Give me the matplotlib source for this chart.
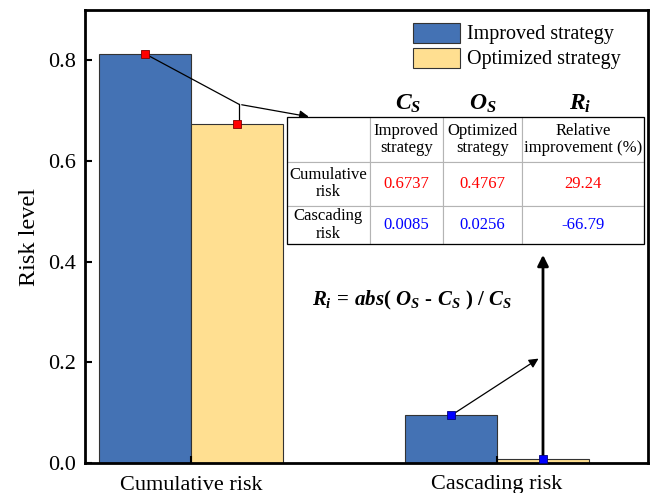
import numpy as np
import matplotlib
matplotlib.use('Agg')
import matplotlib.pyplot as plt
from matplotlib.patches import Rectangle

plt.rcParams['font.family'] = 'Liberation Serif'
plt.rcParams['mathtext.fontset'] = 'custom'
plt.rcParams['mathtext.it'] = 'Liberation Serif:italic:bold'
plt.rcParams['mathtext.rm'] = 'Liberation Serif:bold'
plt.rcParams['mathtext.bf'] = 'Liberation Serif:bold'

categories = ['Cumulative risk', 'Cascading risk']
improved = [0.813, 0.0946]
optimized = [0.674, 0.0085]

col_labels = ['', 'Improved\nstrategy', 'Optimized\nstrategy', 'Relative\nimprovement (%)']
row_labels = ['Cumulative\nrisk', 'Cascading\nrisk']
tab_cs = ['0.6737', '0.0085']
tab_os = ['0.4767', '0.0256']
tab_ri = ['29.24', '-66.79']
row_colors = ['red', 'blue']

c_blue = '#4472b4'
c_yellow = '#ffdf91'
w = 0.3

fig = plt.figure(figsize=(6.56, 4.93), dpi=100)
ax = fig.add_axes([85/656, 1-463/493, 563/656, 453/493])

x = np.arange(len(categories))
ax.bar(x - w/2, improved, w, color=c_blue, edgecolor='#333333', linewidth=0.8, label='Improved strategy')
ax.bar(x + w/2, optimized, w, color=c_yellow, edgecolor='#333333', linewidth=0.8, label='Optimized strategy')

ax.set_xlim(-0.346, 1.493)
ax.set_ylim(0, 0.9)
ax.set_xticks(x)
ax.set_xticklabels(categories, fontsize=16)
ax.set_yticks([0, 0.2, 0.4, 0.6, 0.8])
ax.set_yticklabels(['0.0', '0.2', '0.4', '0.6', '0.8'], fontsize=16)
ax.tick_params(direction='in', width=1.5, length=5)
ax.tick_params(axis='y', pad=6.5)
ax.tick_params(axis='x', pad=9)
ax.set_ylabel('Risk level', fontsize=17.5, labelpad=6)
for s in ax.spines.values():
    s.set_linewidth(2)

# annotations for cumulative risk
kink = (0.157, 0.7127)
ax.plot([0 - w/2, kink[0]], [improved[0], kink[1]], color='k', lw=0.9, zorder=4)
ax.plot([kink[0], kink[0]], [kink[1], optimized[0]], color='k', lw=0.9, zorder=4)
ax.annotate('', xy=(0.394, 0.687), xytext=kink,
            arrowprops=dict(arrowstyle='-|>', color='k', lw=0.9, mutation_scale=14), zorder=4)
ax.plot([0 - w/2, 0 + w/2], [improved[0], optimized[0]], ls='none', marker='s',
        ms=6, mfc='red', mec='#800000', mew=0.6, zorder=5)

# annotations for cascading risk
ax.annotate('', xy=(1.143, 0.2104), xytext=(1 - w/2, improved[1]),
            arrowprops=dict(arrowstyle='-|>', color='k', lw=0.9, mutation_scale=14), zorder=4)
ax.annotate('', xy=(1.15, 0.419), xytext=(1 + w/2, optimized[1]),
            arrowprops=dict(arrowstyle='-|>', color='k', lw=2, mutation_scale=16), zorder=4)
ax.plot([1 - w/2, 1 + w/2], [improved[1], optimized[1]], ls='none', marker='s',
        ms=6, mfc='blue', mec='#000080', mew=0.6, zorder=5)

ax.text(312, 493 - 300, r'$R_i\,=\,abs(\ O_S\ \text{-}\ C_S\ )\ /\ C_S$', transform=None, fontsize=15,
        ha='left', va='center')

# table
cell_text = [[row_labels[i], tab_cs[i], tab_os[i], tab_ri[i]] for i in range(2)]
tb_l, tb_r, tb_b, tb_t = 0.358, 0.993, 0.4834, 0.763
tab = ax.table(cellText=cell_text, colLabels=col_labels, cellLoc='center',
               colWidths=[0.233, 0.2035, 0.221, 0.342],
               bbox=[tb_l, tb_b, tb_r - tb_l, tb_t - tb_b], zorder=6)
tab.auto_set_font_size(False)
row_h = [44.4, 44.3, 38]
for (r, c), cell in tab.get_celld().items():
    cell.set_edgecolor('#b4b4b4')
    cell.set_linewidth(0.8)
    cell.set_facecolor('white')
    cell.set_height(row_h[r])
    txt = cell.get_text()
    txt.set_fontsize(12)
    txt.set_linespacing(1.1)
    if r > 0 and c > 0:
        txt.set_color(row_colors[r - 1])
ax.add_patch(Rectangle((tb_l, tb_b), tb_r - tb_l, tb_t - tb_b, transform=ax.transAxes,
                       fill=False, ec='k', lw=0.9, zorder=7))

heads = [r'$C_S$', r'$O_S$', r'$R_i$']
head_x = [408, 483, 580]
for hx, h in zip(head_x, heads):
    ax.text(hx, 493 - 104, h, transform=None, fontsize=17, ha='center', va='center')

ax.legend(loc='upper left', bbox_to_anchor=(0.583, 0.972), frameon=False, fontsize=14.5,
          borderpad=0, borderaxespad=0, handlelength=2.3, handleheight=1.15,
          handletextpad=0.35, labelspacing=0.15)

fig.savefig('out.png', dpi=100)
